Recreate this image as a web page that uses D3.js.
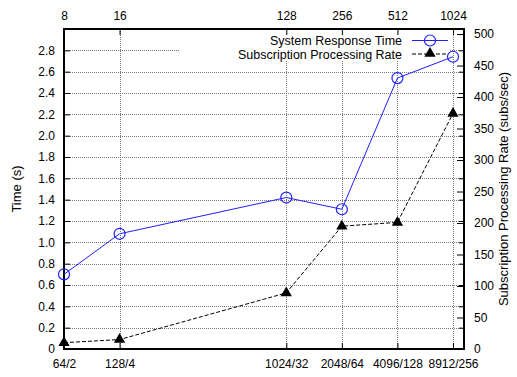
<!DOCTYPE html>
<html>
<head>
<meta charset="utf-8">
<script src="https://cdn.jsdelivr.net/npm/d3@7"></script>
<style>
  body { margin: 0; background: #fff; }
  svg { font-family: "Liberation Sans", Arial, sans-serif; }
</style>
</head>
<body>
<svg id="chart" width="517" height="377"></svg>
<script>
const threads = [8, 16, 128, 256, 512, 1024];
const configs = ['64/2', '128/4', '1024/32', '2048/64', '4096/128', '8912/256'];
const responseTime = [0.70, 1.08, 1.42, 1.31, 2.54, 2.74];
const processingRate = [10, 15, 89, 195, 201, 374];
const timeTicks = [0, 0.2, 0.4, 0.6, 0.8, 1.0, 1.2, 1.4, 1.6, 1.8, 2.0, 2.2, 2.4, 2.6, 2.8];
const rateTicks = [0, 50, 100, 150, 200, 250, 300, 350, 400, 450, 500];

const pl = 64, pr = 464, pt = 29, pb = 349;

const svg = d3.select('#chart');

const x = d3.scaleLog().base(2).domain([8, 1024]).range([pl, 453]);
const y = d3.scaleLinear().domain([0, 3.0]).range([pb, pt]);
const y2 = d3.scaleLinear().domain([0, 508]).range([pb, pt]);

// grid
const grid = svg.append('g')
  .attr('stroke', '#777').attr('stroke-width', 1).attr('stroke-dasharray', '1,1');
grid.selectAll('.hg').data(timeTicks.slice(1)).enter().append('line')
  .attr('x1', pl).attr('x2', pr)
  .attr('y1', d => Math.round(y(d)) + 0.5).attr('y2', d => Math.round(y(d)) + 0.5);
grid.selectAll('.vg').data(threads.slice(1)).enter().append('line')
  .attr('x1', d => Math.round(x(d)) + 0.5).attr('x2', d => Math.round(x(d)) + 0.5)
  .attr('y1', pt).attr('y2', pb);

// key background hides the grid behind it
svg.append('rect').attr('x', 179).attr('y', 31).attr('width', 271).attr('height', 29)
  .attr('fill', '#fff');

// axes
function style(g) {
  g.select('.domain').remove();
  g.selectAll('.tick line').attr('stroke', '#000').attr('stroke-width', 1);
  g.selectAll('.tick text').attr('font-size', 12).attr('fill', '#000')
    .attr('font-family', '"Liberation Sans", Arial, sans-serif');
}

svg.append('g').attr('transform', `translate(${pl},0)`)
  .call(d3.axisLeft(y).tickValues(timeTicks).tickSize(-6).tickPadding(9)
    .tickFormat(d => d === 0 ? '0' : d3.format('.1f')(d)))
  .call(style);

// mirrored y ticks on right border
svg.append('g').attr('transform', `translate(${pr},0)`)
  .call(d3.axisRight(y).tickValues(timeTicks).tickSize(-5).tickFormat(''))
  .call(style);

svg.append('g').attr('transform', `translate(${pr},0)`)
  .call(d3.axisRight(y2).tickValues(rateTicks).tickSize(-7).tickPadding(10))
  .call(style);

svg.append('g').attr('transform', `translate(0,${pb})`)
  .call(d3.axisBottom(x).tickValues(threads).tickSize(-6).tickPadding(10)
    .tickFormat((d, i) => configs[i]))
  .call(style);

svg.append('g').attr('transform', `translate(0,${pt})`)
  .call(d3.axisTop(x).tickValues(threads).tickSize(-6).tickPadding(9)
    .tickFormat(d => d))
  .call(style);

// border
svg.append('rect').attr('x', pl).attr('y', pt)
  .attr('width', pr - pl).attr('height', pb - pt)
  .attr('fill', 'none').attr('stroke', '#000').attr('stroke-width', 2);

// axis titles
svg.append('text').attr('transform', `translate(21,${(pt + pb) / 2}) rotate(-90)`)
  .attr('text-anchor', 'middle').attr('font-size', 13).text('Time (s)');
svg.append('text').attr('transform', `translate(508,${(pt + pb) / 2}) rotate(-90)`)
  .attr('text-anchor', 'middle').attr('font-size', 13)
  .text('Subscription Processing Rate (subs/sec)');

// series
const rateLine = d3.line().x((d, i) => x(threads[i])).y(d => y2(d));
svg.append('path').datum(processingRate).attr('d', rateLine)
  .attr('fill', 'none').attr('stroke', '#000').attr('stroke-width', 1)
  .attr('stroke-dasharray', '4,2');
const tri = d3.symbol().type(d3.symbolTriangle).size(55);
svg.selectAll('.tri').data(processingRate).enter().append('path')
  .attr('d', tri).attr('fill', '#000')
  .attr('transform', (d, i) => `translate(${x(threads[i])},${y2(d)})`);

const timeLine = d3.line().x((d, i) => x(threads[i])).y(d => y(d));
svg.append('path').datum(responseTime).attr('d', timeLine)
  .attr('fill', 'none').attr('stroke', '#1f1fff').attr('stroke-width', 1);
svg.selectAll('.circ').data(responseTime).enter().append('circle')
  .attr('cx', (d, i) => x(threads[i])).attr('cy', d => y(d)).attr('r', 5.5)
  .attr('fill', 'none').attr('stroke', '#1f1fff').attr('stroke-width', 1.2);

// key
const key = svg.append('g').attr('font-size', 12.5);
key.append('text').attr('x', 402).attr('y', 44.5).attr('text-anchor', 'end')
  .text('System Response Time');
key.append('line').attr('x1', 412).attr('x2', 448).attr('y1', 40.5).attr('y2', 40.5)
  .attr('stroke', '#1f1fff');
key.append('circle').attr('cx', 430).attr('cy', 40.5).attr('r', 5.5)
  .attr('fill', 'none').attr('stroke', '#1f1fff').attr('stroke-width', 1.2);
key.append('text').attr('x', 402).attr('y', 58.5).attr('text-anchor', 'end')
  .text('Subscription Processing Rate');
key.append('line').attr('x1', 412).attr('x2', 448).attr('y1', 54).attr('y2', 54)
  .attr('stroke', '#000').attr('stroke-dasharray', '4,2');
key.append('path').attr('d', tri).attr('fill', '#000')
  .attr('transform', 'translate(430,53.5)');
</script>
</body>
</html>
